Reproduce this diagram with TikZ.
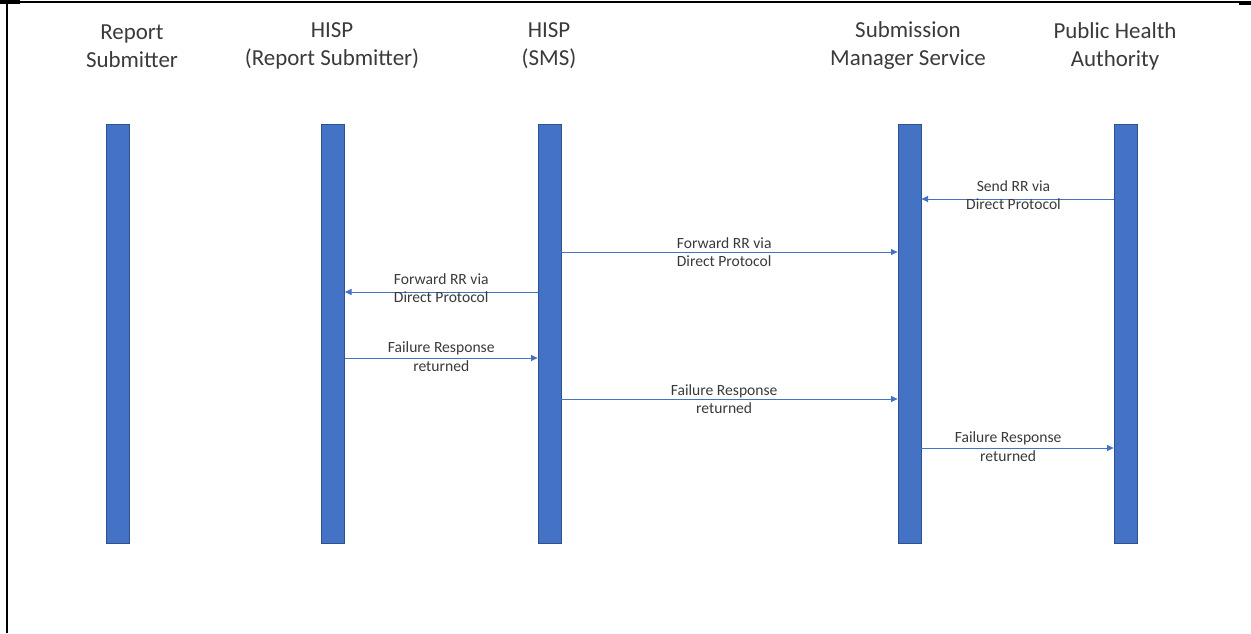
\documentclass[tikz,border=0pt]{standalone}
\usepackage{fontspec}
\setmainfont{Carlito}
\usetikzlibrary{arrows.meta}
\definecolor{barblue}{HTML}{4472C4}
\definecolor{baredge}{HTML}{2F528F}
\definecolor{txtgray}{HTML}{3A3A3A}
\tikzset{
  lifeline/.style={rectangle, fill=barblue, draw=baredge, line width=0.5pt,
    minimum width=17.25pt, minimum height=314.25pt, inner sep=0pt},
  msg/.style={draw=barblue, line width=0.75pt, -{Triangle[length=5pt,width=4.5pt]}},
  msglabel/.style={font=\fontsize{11.7}{13.8}\selectfont, text=txtgray, align=center, inner sep=0pt},
  actor/.style={font=\fontsize{17.2}{21}\selectfont, text=txtgray, align=center, inner sep=0pt},
}
\begin{document}
\begin{tikzpicture}[x=0.75pt, y=-0.75pt]
    \useasboundingbox (0,0) rectangle (1251,633);

    % frame
    \draw[line width=1.5pt] (0,2) -- (1251,2);
    \draw[line width=1.5pt] (6.5,0) -- (6.5,633);
    \draw[line width=3pt] (0,2) -- (20,2);
    \draw[line width=3pt] (1239,3) -- (1251,3);

    % lifelines
    \foreach \name/\x in {rs/117.5, hrs/333, sms/549.5, smsvc/909.5, pha/1125.5} {
        \node[lifeline] (\name) at (\x,333.5) {};
    }

    % headers
    \node[actor] (rsT)    at (132,46)    {Report\\Submitter};
    \node[actor] (hrsT)   at (332,46)    {HISP\\(Report Submitter)};
    \node[actor] (smsT)   at (549,46)    {HISP\\(SMS)};
    \node[actor] (smsvcT) at (908,46)    {Submission\\Manager Service};
    \node[actor] (phaT)   at (1115,46)   {Public Health\\Authority};

    % message rows
    \coordinate (m1) at (0,199);
    \coordinate (m2) at (0,252);
    \coordinate (m3) at (0,292);
    \coordinate (m4) at (0,358);
    \coordinate (m5) at (0,399);
    \coordinate (m6) at (0,448);

    % messages
    \draw[msg] (pha.west |- m1) -- node[msglabel, yshift=3pt, xshift=-3pt] (l1) {Send RR via\\Direct Protocol} (smsvc.east |- m1);
    \draw[msg] (sms.east |- m2) -- node[msglabel, xshift=-4pt] (l2) {Forward RR via\\Direct Protocol} (smsvc.west |- m2);
    \draw[msg] (sms.west |- m3) -- node[msglabel, yshift=3pt] (l3) {Forward RR via\\Direct Protocol} (hrs.east |- m3);
    \draw[msg] (hrs.east |- m4) -- node[msglabel, yshift=1pt] (l4) {Failure Response\\returned} (sms.west |- m4);
    \draw[msg] (sms.east |- m5) -- node[msglabel, xshift=-4pt] (l5) {Failure Response\\returned} (smsvc.west |- m5);
    \draw[msg] (smsvc.east |- m6) -- node[msglabel, yshift=1pt, xshift=-7pt] (l6) {Failure Response\\returned} (pha.west |- m6);

\end{tikzpicture}
\end{document}
